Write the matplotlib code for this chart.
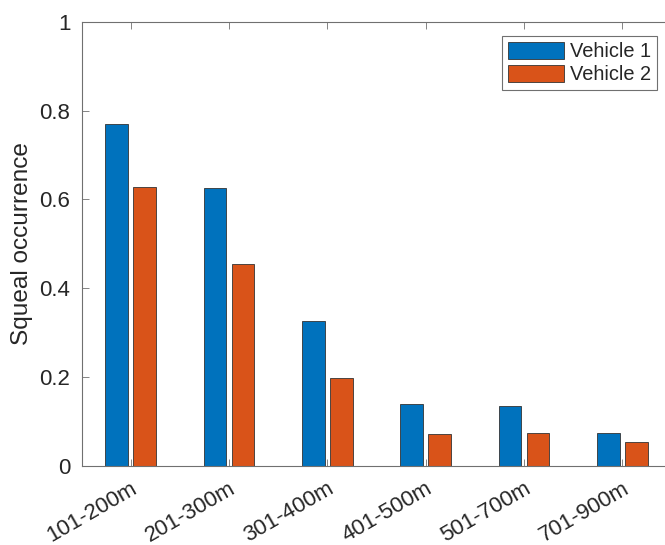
import numpy as np
import matplotlib.pyplot as plt

plt.rcParams['font.family'] = ['Liberation Sans', 'DejaVu Sans']

# squeal occurrence per curve-radius band
categories = ['101-200m', '201-300m', '301-400m', '401-500m', '501-700m', '701-900m']
vehicle_1 = [0.769, 0.625, 0.325, 0.138, 0.134, 0.073]
vehicle_2 = [0.629, 0.455, 0.198, 0.070, 0.073, 0.053]

BLUE = '#0072BD'
ORANGE = '#D95319'
TEXT_GREY = '#262626'
LINE_GREY = '#707070'

fig = plt.figure(figsize=(6.65, 5.45), dpi=100)
# axes box runs slightly past the right edge of the figure
ax = fig.add_axes([81.5 / 665, (545 - 465.5) / 545, (671.5 - 81.5) / 665, (465.5 - 22) / 545])

x = np.arange(1, len(categories) + 1)
bar_w = 0.229
offset = 0.143
ax.bar(x - offset, vehicle_1, width=bar_w, color=BLUE, edgecolor='#333333',
       linewidth=0.6, label='Vehicle 1', zorder=2)
ax.bar(x + offset, vehicle_2, width=bar_w, color=ORANGE, edgecolor='#333333',
       linewidth=0.6, label='Vehicle 2', zorder=2)

ax.set_xlim(0.5, 6.5)
ax.set_ylim(0, 1)
ax.set_yticks([0, 0.2, 0.4, 0.6, 0.8, 1])
ax.set_yticklabels(['0', '0.2', '0.4', '0.6', '0.8', '1'])
ax.set_xticks(x)
ax.set_xticklabels(categories, rotation=30, ha='right', va='top',
                   rotation_mode='anchor')

ax.tick_params(axis='both', direction='in', length=5, width=0.6,
               color=LINE_GREY, labelcolor=TEXT_GREY, labelsize=16,
               top=True, right=False)
ax.tick_params(axis='x', pad=9)
ax.tick_params(axis='y', pad=8)
for spine in ax.spines.values():
    spine.set_color(LINE_GREY)
    spine.set_linewidth(0.8)
ax.spines['right'].set_visible(False)

ax.set_ylabel('Squeal occurrence', fontsize=17.6, color=TEXT_GREY, labelpad=5)

leg = ax.legend(loc='upper right', fontsize=14.4, frameon=True, fancybox=False,
                edgecolor=LINE_GREY, framealpha=1, handlelength=2.8,
                handleheight=0.9, handletextpad=0.3, labelspacing=0.2,
                borderpad=0.3, borderaxespad=0.7)
leg.get_frame().set_linewidth(0.8)
for t in leg.get_texts():
    t.set_color(TEXT_GREY)

fig.savefig('out.png', dpi=100)
